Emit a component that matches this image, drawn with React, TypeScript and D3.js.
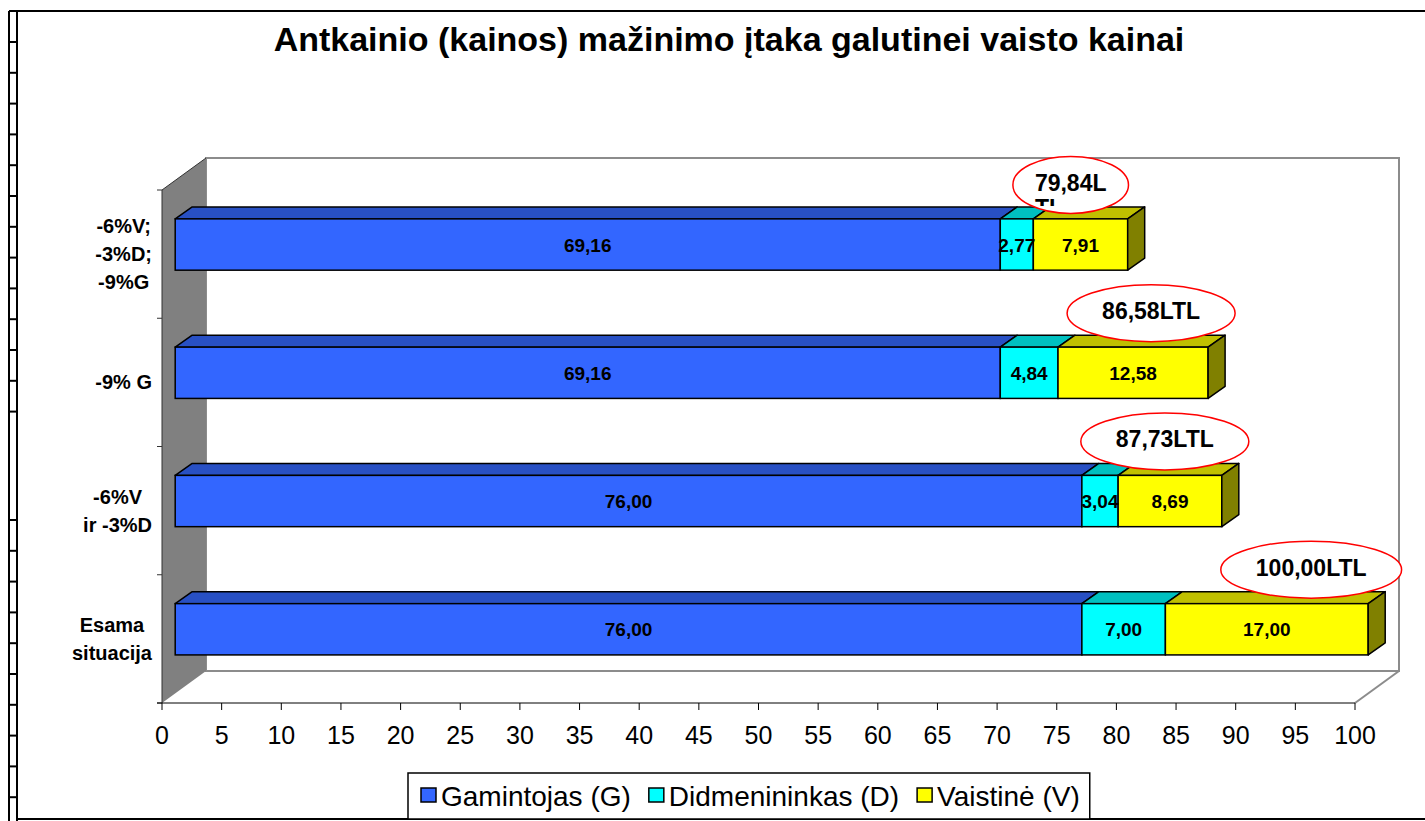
import * as d3 from 'd3'

// Categories listed bottom → top, as drawn
const CATEGORIES = ['Esama situacija', '-6%V ir -3%D', '-9% G', '-6%V; -3%D; -9%G']
const CATEGORY_LINES = [['Esama', 'situacija'], ['-6%V', 'ir -3%D'], ['-9% G'], ['-6%V;', '-3%D;', '-9%G']]
const SERIES = ['Gamintojas (G)', 'Didmenininkas (D)', 'Vaistinė (V)']
const GAMINTOJAS = [76.0, 76.0, 69.16, 69.16]
const DIDMENININKAS = [7.0, 3.04, 4.84, 2.77]
const VAISTINE = [17.0, 8.69, 12.58, 7.91]
const TOTAL_LABELS = [['100,00LTL'], ['87,73LTL'], ['86,58LTL'], ['79,84L', 'TL']]
const X_TICKS = [0, 5, 10, 15, 20, 25, 30, 35, 40, 45, 50, 55, 60, 65, 70, 75, 80, 85, 90, 95, 100]

const TITLE = 'Antkainio (kainos) mažinimo įtaka galutinei vaisto kainai'
const FONT = '"Liberation Sans", Arial, sans-serif'

// front / top / side shades per series
const COLORS = [
  { front: '#3366ff', top: '#2850c4', side: '#1a3399' },
  { front: '#00ffff', top: '#00c0c0', side: '#008080' },
  { front: '#ffff00', top: '#c0c000', side: '#808000' },
]

const W = 1425
const H = 821

let ctx: CanvasRenderingContext2D | null = null
function measure(text: string, font: string) {
  if (!ctx) ctx = document.createElement('canvas').getContext('2d')
  if (!ctx) return text.length * 10
  ctx.font = font
  return ctx.measureText(text).width
}

const fmt = (v: number) => v.toFixed(2).replace('.', ',')

export default function App() {
  // plot geometry (front plane + depth of the 3D box)
  const x0 = 162
  const x1 = 1355
  const yTop = 190
  const yBottom = 703
  const depth = { dx: 44, dy: -32 }
  const barShift = 0.3 // bars sit part way into the depth
  const barDepth = { dx: 17, dy: -12 }

  const xAxis = d3.scaleLinear().domain([0, 100]).range([x0, x1])
  const xBar = d3.scaleLinear().domain([0, 100]).range([x0 + depth.dx * barShift, x1 + depth.dx * barShift])
  const yBand = d3.scaleBand<string>().domain(CATEGORIES).range([yBottom, yTop])
  const bw = yBand.bandwidth()
  const barH = bw * 0.4

  const series = [GAMINTOJAS, DIDMENININKAS, VAISTINE]

  const bars = CATEGORIES.map((cat, i) => {
    const cy = (yBand(cat) ?? 0) + bw / 2 + depth.dy * barShift
    const top = cy - barH / 2
    let acc = 0
    const segs = series.map((s, k) => {
      const start = acc
      acc += s[i]
      return { k, start, end: acc, value: s[i] }
    })
    return { cat, i, cy, top, bottom: top + barH, segs, total: acc }
  })

  // left strip ticks (decorative page border)
  const stripTicks = [...d3.range(42, 420, 30.8), ...d3.range(520, 815, 30.8)]

  // legend layout
  const legendFont = `28px ${FONT}`
  let lx = 421
  const legendItems = SERIES.map((name, k) => {
    const item = { name, k, sx: lx, tx: lx + 20 }
    lx = item.tx + measure(name, legendFont) + 18
    return item
  })

  const catFont = `bold 20px ${FONT}`
  const totFont = `bold 23px ${FONT}`

  return (
    <svg
      width={W}
      height={H}
      style={{ position: 'absolute', left: 0, top: 0, display: 'block', background: '#fff' }}
      fontFamily={FONT}
    >
      <defs>
        {bars.map(b => (
          <clipPath key={b.i} id={`tclip-${b.i}`}>
            <rect x={0} y={0} width={W} height={b.top - 34 + 21} />
          </clipPath>
        ))}
      </defs>

      {/* page frame */}
      <line x1={9} y1={11} x2={9} y2={H} stroke="#000" strokeWidth={2} />
      <line x1={17} y1={11} x2={17} y2={H} stroke="#000" strokeWidth={2} />
      <line x1={9} y1={11} x2={W} y2={11} stroke="#000" strokeWidth={2} />
      <line x1={17} y1={819} x2={W} y2={819} stroke="#000" strokeWidth={2} />
      {stripTicks.map((y, i) => (
        <line key={i} x1={9} x2={17} y1={y} y2={y} stroke="#000" strokeWidth={2} />
      ))}

      {/* title */}
      <text x={729} y={51} textAnchor="middle" fontWeight="bold" fontSize={34} fill="#000">
        {TITLE}
      </text>

      {/* back wall */}
      <rect
        x={x0 + depth.dx}
        y={yTop + depth.dy}
        width={x1 - x0}
        height={yBottom - yTop}
        fill="#fff"
        stroke="#8c8c8c"
        strokeWidth={2}
      />
      {/* floor right edge */}
      <line x1={x1} y1={yBottom} x2={x1 + depth.dx} y2={yBottom + depth.dy} stroke="#8c8c8c" strokeWidth={2} />
      {/* side wall */}
      <polygon
        points={`${x0},${yTop} ${x0 + depth.dx},${yTop + depth.dy} ${x0 + depth.dx},${yBottom + depth.dy} ${x0},${yBottom}`}
        fill="#808080"
      />
      <line x1={x0} y1={yTop} x2={x0 + depth.dx} y2={yTop + depth.dy} stroke="#333" strokeWidth={1} />
      <line x1={x0} y1={yTop} x2={x0} y2={yBottom} stroke="#333" strokeWidth={1} />

      {/* category ticks */}
      {[...CATEGORIES.map(c => yBand(c) ?? 0), yBottom].map((y, i) => (
        <line key={i} x1={x0 - 5} x2={x0} y1={y} y2={y} stroke="#333" strokeWidth={1} />
      ))}

      {/* x axis */}
      <line x1={x0 - 5} x2={x1} y1={yBottom} y2={yBottom} stroke="#000" strokeWidth={1} />
      {X_TICKS.map(t => (
        <g key={t}>
          <line x1={xAxis(t)} x2={xAxis(t)} y1={yBottom} y2={yBottom + 7} stroke="#000" strokeWidth={1} />
          <text x={xAxis(t)} y={744} textAnchor="middle" fontSize={25} fill="#000">
            {t}
          </text>
        </g>
      ))}

      {/* category labels */}
      {bars.map(b => {
        const lines = CATEGORY_LINES[b.i]
        const maxW = d3.max(lines, l => measure(l, catFont)) ?? 0
        const cx = 152 - maxW / 2
        const mid = (yBand(b.cat) ?? 0) + bw / 2
        const lh = 28
        return (
          <text key={b.i} textAnchor="middle" fontWeight="bold" fontSize={20} fill="#000">
            {lines.map((l, j) => (
              <tspan key={j} x={cx} y={mid + (j - (lines.length - 1) / 2) * lh + 7}>
                {l}
              </tspan>
            ))}
          </text>
        )
      })}

      {/* bars */}
      {bars.map(b => (
        <g key={b.i}>
          {b.segs.map(s => {
            const a = xBar(s.start)
            const e = xBar(s.end)
            const c = COLORS[s.k]
            return (
              <g key={s.k}>
                <polygon
                  points={`${a},${b.top} ${a + barDepth.dx},${b.top + barDepth.dy} ${e + barDepth.dx},${b.top + barDepth.dy} ${e},${b.top}`}
                  fill={c.top}
                  stroke="#000"
                  strokeWidth={1.5}
                  strokeLinejoin="round"
                />
                <rect x={a} y={b.top} width={e - a} height={barH} fill={c.front} stroke="#000" strokeWidth={1.5} />
              </g>
            )
          })}
          {(() => {
            const e = xBar(b.total)
            const c = COLORS[2]
            return (
              <polygon
                points={`${e},${b.top} ${e + barDepth.dx},${b.top + barDepth.dy} ${e + barDepth.dx},${b.bottom + barDepth.dy} ${e},${b.bottom}`}
                fill={c.side}
                stroke="#000"
                strokeWidth={1.5}
                strokeLinejoin="round"
              />
            )
          })()}
          {b.segs.map(s => (
            <text
              key={`t${s.k}`}
              x={(xBar(s.start) + xBar(s.end)) / 2}
              y={b.cy + 7}
              textAnchor="middle"
              fontWeight="bold"
              fontSize={19}
              fill="#000"
            >
              {fmt(s.value)}
            </text>
          ))}
        </g>
      ))}

      {/* total callouts */}
      {bars.map(b => {
        const lines = TOTAL_LABELS[b.i]
        const w1 = measure(lines[0], totFont)
        const cx = xBar(b.total) - 57
        const cy = b.top - 34
        const rx = lines.length > 1 ? w1 / 2 + 22 : w1 / 2 + 35
        const ry = 28.5
        const base = cy + 6
        return (
          <g key={b.i}>
            <ellipse cx={cx} cy={cy} rx={rx} ry={ry} fill="#fff" stroke="#ff0000" strokeWidth={1.5} />
            <g clipPath={`url(#tclip-${b.i})`}>
              {lines.map((l, j) => (
                <text
                  key={j}
                  x={cx - w1 / 2}
                  y={base + j * 25}
                  fontWeight="bold"
                  fontSize={23}
                  fill="#000"
                >
                  {l}
                </text>
              ))}
            </g>
          </g>
        )
      })}

      {/* legend */}
      <rect x={408} y={773} width={lx - 408 - 8} height={46} fill="#fff" stroke="#000" strokeWidth={1.5} />
      {legendItems.map(it => (
        <g key={it.k}>
          <rect x={it.sx} y={788} width={15} height={14} fill={COLORS[it.k].front} stroke="#000" strokeWidth={1.5} />
          <text x={it.tx} y={806} fontSize={28} fill="#000">
            {it.name}
          </text>
        </g>
      ))}
    </svg>
  )
}
